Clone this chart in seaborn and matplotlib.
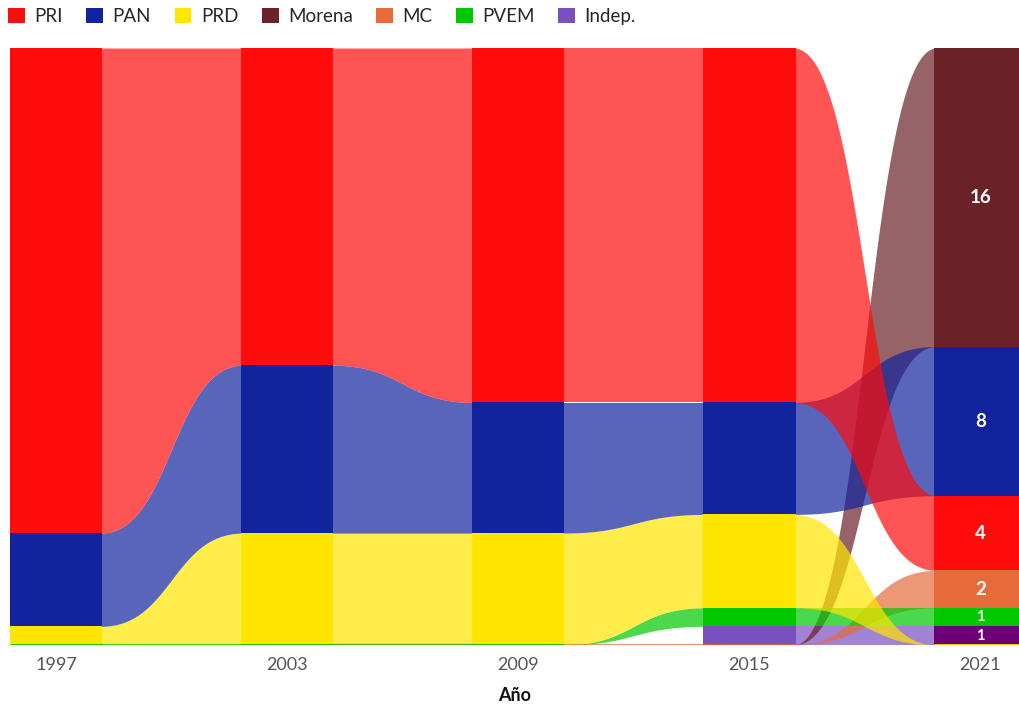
import numpy as np
import pandas as pd
import matplotlib
matplotlib.use("Agg")
import matplotlib.pyplot as plt
from matplotlib.patches import Patch
import seaborn as sns

# data: seats won per party in each election (nan = party not running yet)
years = [1997, 2003, 2009, 2015, 2021]
parties = ["PRI", "PAN", "PRD", "Morena", "MC", "PVEM", "Indep."]
pri = [26, 17, 19, 19, 4]
pan = [5, 9, 7, 6, 8]
prd = [1, 6, 6, 5, 0]
morena = [np.nan, np.nan, np.nan, 0, 16]
mc = [np.nan, 0, 0, 0, 2]
pvem = [0, 0, 0, 1, 1]
indep = [np.nan, np.nan, np.nan, 1, 1]
party_colors = ["#ff0c0c", "#12239e", "#ffe600", "#6a2128", "#e56b3a", "#00c800", "#7a4fc1"]
node_color_override = {("Indep.", 2021): "#6b0078"}

seats = pd.DataFrame({"PRI": pri, "PAN": pan, "PRD": prd, "Morena": morena,
                      "MC": mc, "PVEM": pvem, "Indep.": indep}, index=years)
colors = dict(zip(parties, sns.color_palette(party_colors)))

sns.set_theme(style="white")
plt.rcParams["font.family"] = ["Lato", "DejaVu Sans"]

fig = plt.figure(figsize=(10.2, 7.04), dpi=100)
ax = fig.add_axes([10 / 1020, 59 / 704, 1010 / 1020, 597 / 704])

node_w = 2.4

# stack positions per year: biggest on top, zeros at the bottom
pos = {}
for y in years:
    vals = seats.loc[y].dropna()
    order = sorted(vals.index, key=lambda p: (-vals[p], parties.index(p)))
    top = vals.sum()
    for p in order:
        pos[(p, y)] = (top - vals[p], top)
        top -= vals[p]

# sankey-style link curve (cubic bezier, horizontal tangents)
u = np.linspace(0, 1, 300)
bx = 1.5 * u * (1 - u) + u ** 3
by = 3 * (1 - u) * u ** 2 + u ** 3
t = np.linspace(0, 1, 200)
s = np.interp(t, bx, by)

draw_order = ["Indep.", "Morena", "MC", "PVEM", "PRD", "PAN", "PRI"]
for i in range(len(years) - 1):
    y0, y1 = years[i], years[i + 1]
    xs = np.linspace(y0 + node_w / 2 - 0.05, y1 - node_w / 2 + 0.05, 200)
    for p in draw_order:
        if (p, y0) not in pos or (p, y1) not in pos:
            continue
        b0, t0 = pos[(p, y0)]
        b1, t1 = pos[(p, y1)]
        lo = b0 + (b1 - b0) * s
        hi = t0 + (t1 - t0) * s
        ax.fill_between(xs, lo, hi, color=colors[p], alpha=0.7, lw=0)
        if t0 == b0 and t1 == b1:
            ax.plot(xs, lo, color=colors[p], alpha=0.7, lw=1.6, solid_capstyle="butt")

# nodes
for y in years:
    for p in draw_order:
        if (p, y) not in pos:
            continue
        b, tp = pos[(p, y)]
        c = node_color_override.get((p, y), colors[p])
        if tp == b:
            ax.plot([y - node_w / 2, y + node_w / 2], [b, b], color=c, lw=2, solid_capstyle="butt")
        else:
            ax.fill_between([y - node_w / 2, y + node_w / 2], [b, b], [tp, tp], color=c, lw=0)

# value labels for the last election
last = years[-1]
for p in parties:
    b, tp = pos[(p, last)]
    if tp > b:
        fs = 13.5 if tp - b >= 2 else 10.5
        ax.text(last, (b + tp) / 2, str(int(tp - b)), color="white", ha="center",
                va="center", fontsize=fs, fontweight="bold")

ax.set_xlim(1995.8, 2022.03)
ax.set_ylim(0, 32)
ax.set_xticks(years)
ax.set_xticklabels([str(y) for y in years], color="#555555", fontsize=13)
ax.tick_params(axis="x", length=0, pad=9)
ax.set_yticks([])
ax.set_xlabel("Año", fontsize=13, fontweight="bold", color="#111111", labelpad=10)
for sp in ax.spines.values():
    sp.set_visible(False)

handles = [Patch(facecolor=colors[p], edgecolor="none", label=p) for p in parties]
fig.legend(handles=handles, loc="upper left", bbox_to_anchor=(-0.003, 1.005), ncol=7,
           frameon=False, fontsize=13.5, handlelength=0.9, handleheight=0.9,
           handletextpad=0.5, columnspacing=1.25, borderaxespad=0.2)

fig.savefig("out.png", dpi=100)
